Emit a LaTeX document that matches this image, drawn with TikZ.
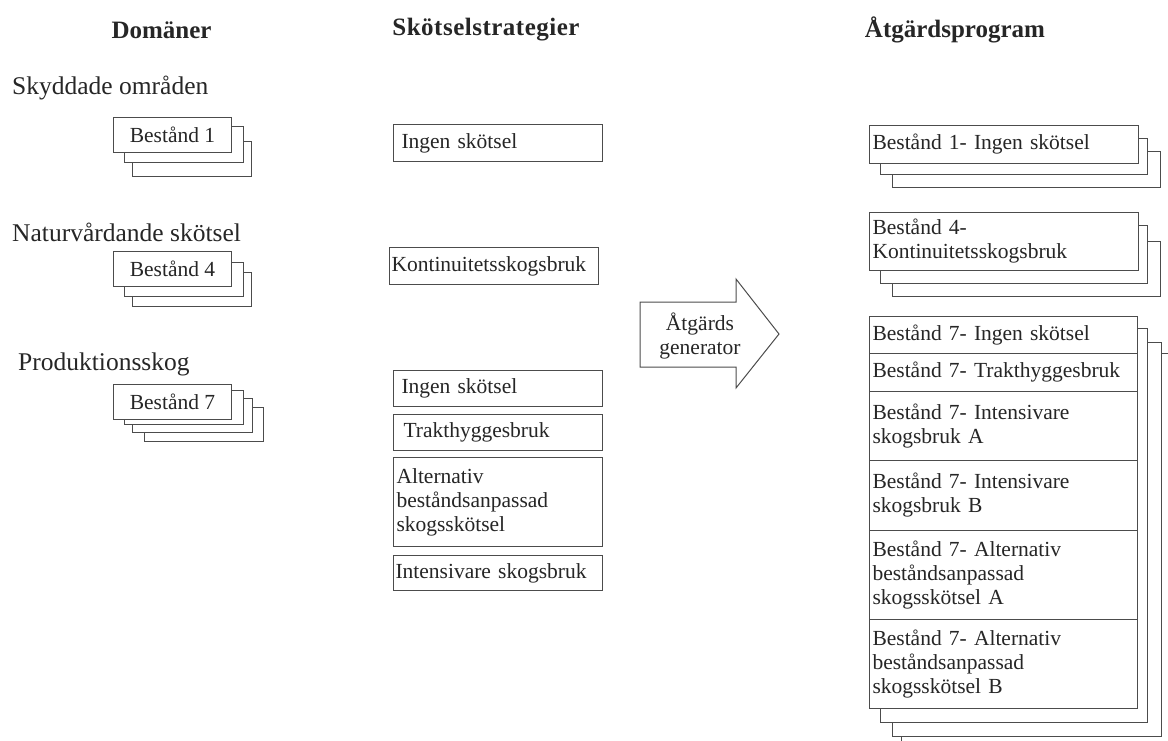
\documentclass[tikz,border=0pt]{standalone}
\usepackage{fontspec}
\setmainfont{Liberation Serif}
\newcommand\bodyfont{\fontsize{21.5}{24}\selectfont}
\newcommand\labelfont{\fontsize{25.5}{29}\selectfont}
\newcommand\headfont{\fontsize{25}{29}\selectfont\bfseries}
\definecolor{edge}{gray}{0.3}
\definecolor{ink}{gray}{0.15}
\tikzset{
  ln/.style={draw=edge, line width=1pt},
  shadowbox/.style={ln, fill=white},
  stackbox/.style={ln, fill=white, rectangle, anchor=north west, inner sep=0pt,
    align=center, font=\bodyfont, text=ink},
  leftbox/.style={ln, fill=white, rectangle, anchor=north west, inner ysep=0pt,
    align=left, font=\bodyfont, text=ink},
  heading/.style={font=\headfont, text=ink},
  domlabel/.style={font=\labelfont, text=ink, anchor=west, inner sep=0pt},
}
\begin{document}
\begin{tikzpicture}[x=1pt, y=-1pt]
\useasboundingbox (0,0) rectangle (1168,740);

% headings
\node[heading] (h1) at (161.5,30) {Domäner};
\node[heading] (h2) at (486,30) {\addfontfeature{LetterSpace=2}Skötselstrategier};
\node[heading] (h3) at (955,30) {Åtgärdsprogram};

% domain labels
\node[domlabel] (d1) at (12,88) {Skyddade områden};
\node[domlabel] (d2) at (12,232) {Naturvårdande skötsel};
\node[domlabel] (d3) at (18,364) {Produktionsskog};

% left stacks
\draw[shadowbox] (132,141) rectangle (251,176);
\draw[shadowbox] (124,126) rectangle (243,162);
\node[stackbox, minimum width=118pt, minimum height=35pt] (b1) at (113,117) {Bestånd 1};

\draw[shadowbox] (132,272) rectangle (251,306);
\draw[shadowbox] (124,262) rectangle (243,296);
\node[stackbox, minimum width=118pt, minimum height=35pt] (b4) at (113,251) {Bestånd 4};

\draw[shadowbox] (144,407) rectangle (263,441);
\draw[shadowbox] (132,398) rectangle (252,432);
\draw[shadowbox] (124,390) rectangle (243,424);
\node[stackbox, minimum width=118pt, minimum height=35pt] (b7) at (113,384) {Bestånd 7};

% strategies
\node[leftbox, inner xsep=8pt, minimum width=209pt, text width=193pt, minimum height=37pt] (s1) at (393,124) {Ingen skötsel};
\node[leftbox, inner xsep=2pt, minimum width=209pt, text width=205pt, minimum height=37pt] (s2) at (389,247) {Kontinuitetsskogsbruk};
\node[leftbox, inner xsep=8pt, minimum width=209pt, text width=193pt, minimum height=36pt] (s3) at (393,370) {Ingen skötsel};
\node[leftbox, inner xsep=10pt, minimum width=209pt, text width=189pt, minimum height=36pt] (s4) at (393,414) {Trakthyggesbruk};
\node[leftbox, inner xsep=3pt, minimum width=209pt, text width=203pt, minimum height=89pt] (s5) at (393,457) {Alternativ\\beståndsanpassad\\skogsskötsel};
\node[leftbox, inner xsep=2pt, minimum width=209pt, text width=205pt, minimum height=35pt] (s6) at (393,555) {Intensivare skogsbruk};

% generator arrow
\draw[ln, fill=white] (640,302) -- (736,302) -- (736,279) -- (779,334) -- (736,388) -- (736,367) -- (640,367) -- cycle;
\node[font=\bodyfont, text=ink, align=center] (gen) at (700,336) {Åtgärds\\generator};

% programmes
\draw[shadowbox] (892,151) rectangle (1160,187);
\draw[shadowbox] (880,138) rectangle (1147,174);
\node[leftbox, inner xsep=3pt, minimum width=269pt, text width=263pt, minimum height=38pt] (p1) at (869,125) {Bestånd 1- Ingen skötsel};

\draw[shadowbox] (892,241) rectangle (1160,296);
\draw[shadowbox] (880,225) rectangle (1147,283);
\node[leftbox, inner xsep=3pt, minimum width=269pt, text width=263pt, minimum height=58pt] (p4) at (869,212) {Bestånd 4-\\Kontinuitetsskogsbruk};

\draw[shadowbox] (901,353) rectangle (1190,760);
\draw[shadowbox] (892,342) rectangle (1161,736);
\draw[shadowbox] (880,328) rectangle (1147,722);
\node[leftbox, inner xsep=3pt, minimum width=268pt, text width=262pt, minimum height=37pt] (q1) at (869,316) {Bestånd 7- Ingen skötsel};
\node[leftbox, inner xsep=3pt, minimum width=268pt, text width=262pt, minimum height=38pt] (q2) at (869,353) {Bestånd 7- Trakthyggesbruk};
\node[leftbox, inner xsep=3pt, minimum width=268pt, text width=262pt, minimum height=69pt] (q3) at (869,391) {Bestånd 7- Intensivare\\skogsbruk A};
\node[leftbox, inner xsep=3pt, minimum width=268pt, text width=262pt, minimum height=70pt] (q4) at (869,460) {Bestånd 7- Intensivare\\skogsbruk B};
\node[leftbox, inner xsep=3pt, minimum width=268pt, text width=262pt, minimum height=89pt] (q5) at (869,530) {Bestånd 7- Alternativ\\beståndsanpassad\\skogsskötsel A};
\node[leftbox, inner xsep=3pt, minimum width=268pt, text width=262pt, minimum height=89pt] (q6) at (869,619) {Bestånd 7- Alternativ\\beståndsanpassad\\skogsskötsel B};
\end{tikzpicture}
\end{document}
